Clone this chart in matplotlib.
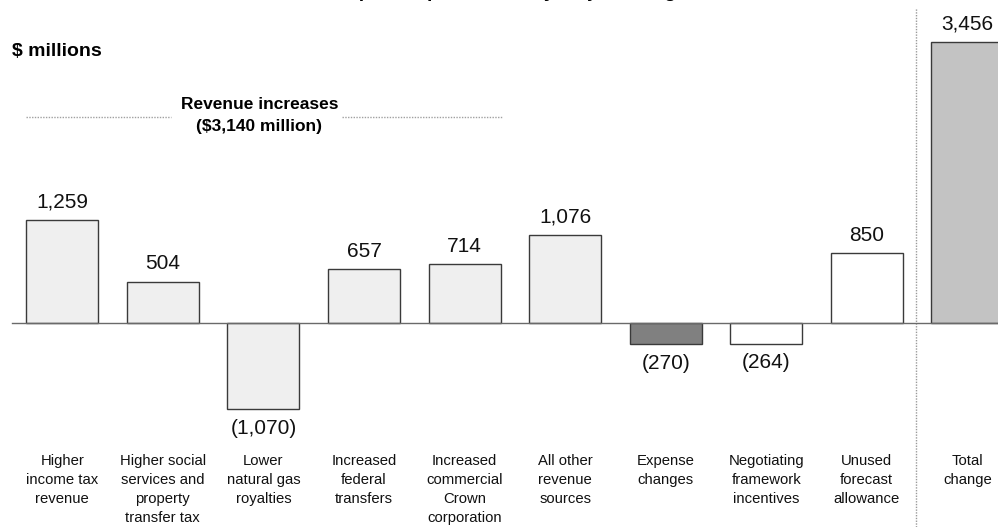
import numpy as np
import matplotlib
matplotlib.use("Agg")
import matplotlib.pyplot as plt

plt.rcParams['font.family'] = ['Liberation Sans', 'DejaVu Sans']

# categories and changes ($ millions)
categories = [
    "Higher\nincome tax\nrevenue",
    "Higher social\nservices and\nproperty\ntransfer tax",
    "Lower\nnatural gas\nroyalties",
    "Increased\nfederal\ntransfers",
    "Increased\ncommercial\nCrown\ncorporation",
    "All other\nrevenue\nsources",
    "Expense\nchanges",
    "Negotiating\nframework\nincentives",
    "Unused\nforecast\nallowance",
    "Total\nchange",
]
values = [1259, 504, -1070, 657, 714, 1076, -270, -264, 850, 3456]
bar_colors = ["#efefef"] * 6 + ["#808080", "#ffffff", "#ffffff", "#c3c3c3"]

W, H = 998, 527
fig = plt.figure(figsize=(W / 100, H / 100), dpi=100)
ax = fig.add_axes([0, 0, 1, 1])

# pixel layout: first bar centre at 62 px, pitch ~100.6 px, zero line at 322.5 px
pitch = 100.56
x0 = 62.3
ppu = 0.0813   # pixels per $ million
zero_px = 322.5
ax.set_xlim(-x0 / pitch, (W - x0) / pitch)
ax.set_ylim(-(H - zero_px) / ppu, zero_px / ppu)
ax.axis("off")

def fx(px):
    return px / W

def fy(py):
    return 1 - py / H

xs = np.arange(len(values))
ax.bar(xs, values, width=72 / pitch, color=bar_colors,
       edgecolor="#3a3a3a", linewidth=1.0, zorder=3)

# zero line and separator before the total
ax.axhline(0, xmin=fx(12), xmax=1, color="#6a6a6a", linewidth=1.0, zorder=4)
ax.axvline(8.49, ymin=0, ymax=fy(8), color="#9a9a9a", linewidth=1.0,
           linestyle=(0, (1, 1)), zorder=2)

def fmt(v):
    s = f"{abs(v):,}"
    return s if v >= 0 else f"({s})"

for x, v in zip(xs, values):
    off = 18 if v >= 0 else -19
    ax.annotate(fmt(v), (x, v), xytext=(0, off), textcoords="offset pixels",
                ha="center", va="center", fontsize=15, color="#111111")

for x, lab in zip(xs, categories):
    ax.text(x, -(454 - zero_px) / ppu, lab, ha="center", va="top",
            fontsize=10.7, linespacing=1.45, color="#111111")

# labels and the revenue bracket
fig.text(fx(12.5), fy(51), "$ millions", ha="left", va="center",
         fontsize=14, fontweight="bold")
fig.text(fx(259.5), fy(104.5), "Revenue increases", ha="center", va="center",
         fontsize=12.5, fontweight="bold")
fig.text(fx(259.5), fy(127), "($3,140 million)", ha="center", va="center",
         fontsize=12.5, fontweight="bold")
for a, b in [(26, 171), (342, 503)]:
    ax.plot([(a - x0) / pitch, (b - x0) / pitch], [(zero_px - 117) / ppu] * 2,
            color="#a0a0a0", linewidth=1.0, linestyle=(0, (1, 1)))

# chart title, mostly above the top edge
fig.text(fx(512), fy(-2.6), "Surplus improvement by major changes",
         ha="center", va="baseline", fontsize=14, fontweight="bold")

fig.savefig("out.png", dpi=100)
